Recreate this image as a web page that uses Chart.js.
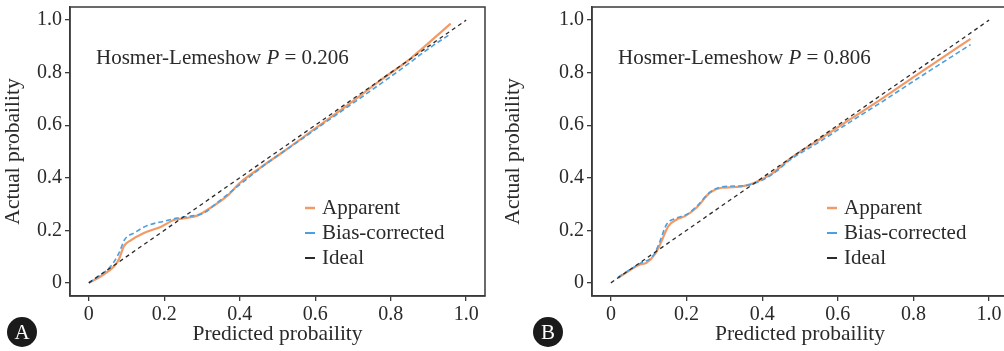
<!DOCTYPE html>
<html>
<head>
<meta charset="utf-8">
<script src="https://cdn.jsdelivr.net/npm/chart.js@4.4.1/dist/chart.umd.min.js"></script>
<style>
  html, body { margin: 0; padding: 0; background: #fff; overflow: hidden; width: 1004px; height: 351px; }
  .panel { position: absolute; top: 0; height: 351px; }
  #wrapA { left: 0; width: 500px; }
  #wrapB { left: 500px; width: 520px; }
  .badge { position: absolute; width: 30px; height: 30px; border-radius: 50%; background: #1b1b1b; color: #fff;
           font: 21px "Liberation Serif", serif; text-align: center; line-height: 31px; }
</style>
</head>
<body>
<div class="panel" id="wrapA"><canvas id="chartA" width="500" height="351"></canvas></div>
<div class="panel" id="wrapB"><canvas id="chartB" width="520" height="351"></canvas></div>
<div class="badge" style="left:7px;top:317px">A</div>
<div class="badge" style="left:533px;top:317px">B</div>
<script>
// tick values shared by both axes
const tickVals = [0, 0.2, 0.4, 0.6, 0.8, 1.0];
const seriesLabels = ["Apparent", "Bias-corrected", "Ideal"];

// ideal line
const idealX = [0, 1.0];
const idealY = [0, 1.0];

// panel A
const hlA = "0.206";
const appAx = [0, 0.032, 0.067, 0.08, 0.093, 0.111, 0.146, 0.19, 0.225, 0.26, 0.287, 0.313, 0.366, 0.40, 0.454, 0.516, 0.604, 0.692, 0.77, 0.85, 0.959];
const appAy = [0, 0.025, 0.063, 0.091, 0.14, 0.162, 0.19, 0.213, 0.239, 0.247, 0.256, 0.277, 0.33, 0.38, 0.438, 0.5, 0.592, 0.683, 0.768, 0.851, 0.987];
const biasAx = [0, 0.032, 0.058, 0.08, 0.095, 0.12, 0.155, 0.2, 0.234, 0.27, 0.305, 0.34, 0.40, 0.472, 0.56, 0.648, 0.736, 0.824, 0.912, 0.955];
const biasAy = [0, 0.032, 0.063, 0.114, 0.165, 0.19, 0.218, 0.235, 0.247, 0.254, 0.266, 0.305, 0.374, 0.455, 0.543, 0.632, 0.72, 0.81, 0.903, 0.944];

// panel B
const hlB = "0.806";
const appBx = [0.019, 0.05, 0.077, 0.094, 0.116, 0.13, 0.152, 0.174, 0.196, 0.226, 0.262, 0.293, 0.323, 0.359, 0.394, 0.429, 0.473, 0.544, 0.632, 0.72, 0.808, 0.951];
const appBy = [0.019, 0.048, 0.07, 0.076, 0.108, 0.146, 0.216, 0.241, 0.254, 0.286, 0.343, 0.362, 0.364, 0.371, 0.391, 0.419, 0.472, 0.539, 0.622, 0.704, 0.791, 0.929];
const biasBx = [0.019, 0.077, 0.112, 0.128, 0.147, 0.174, 0.2, 0.226, 0.262, 0.293, 0.359, 0.403, 0.438, 0.473, 0.544, 0.632, 0.72, 0.808, 0.951];
const biasBy = [0.022, 0.074, 0.104, 0.152, 0.222, 0.247, 0.26, 0.29, 0.345, 0.365, 0.371, 0.393, 0.425, 0.467, 0.53, 0.612, 0.692, 0.775, 0.907];

const FONT = '"Liberation Serif", "Times New Roman", serif';
const INK = "#2a2a2a";

function pts(xs, ys) {
  return xs.map((x, i) => ({ x: x, y: ys[i] }));
}

// frame, legend and the HL text drawn inside the plot box
const boxPlugin = {
  id: "box",
  afterDatasetsDraw(chart, args, opts) {
    const ctx = chart.ctx;
    const a = chart.chartArea;
    ctx.save();
    ctx.strokeStyle = "#3a3a3a";
    ctx.lineWidth = 1.5;
    ctx.strokeRect(a.left, a.top, a.right - a.left, a.bottom - a.top);

    // Hosmer-Lemeshow text
    ctx.fillStyle = INK;
    ctx.textBaseline = "middle";
    ctx.font = "21px " + FONT;
    let x = a.left + 26;
    const y = a.top + 51;
    const p1 = "Hosmer-Lemeshow ";
    ctx.fillText(p1, x, y);
    x += ctx.measureText(p1).width;
    ctx.font = "italic 21px " + FONT;
    ctx.fillText("P", x, y);
    x += ctx.measureText("P").width;
    ctx.font = "21px " + FONT;
    ctx.fillText(" = " + opts.hl, x, y);

    // legend
    chart.data.datasets.forEach((ds, i) => {
      const ly = a.top + 201 + i * 25;
      ctx.strokeStyle = ds.borderColor;
      ctx.lineWidth = i === 0 ? 2.5 : 2;
      ctx.setLineDash([]);
      ctx.beginPath();
      ctx.moveTo(a.left + 235, ly);
      ctx.lineTo(a.left + 245, ly);
      ctx.stroke();
      ctx.fillStyle = INK;
      ctx.fillText(ds.label, a.left + 252, ly);
    });
    ctx.restore();
  }
};

function makeChart(id, app, bias, hl, yWidth, padRight) {
  return new Chart(document.getElementById(id), {
    type: "line",
    data: {
      datasets: [
        {
          label: seriesLabels[0],
          data: app,
          borderColor: "#f29a66",
          borderWidth: 2.2,
          pointRadius: 0,
          cubicInterpolationMode: "monotone",
          order: 2
        },
        {
          label: seriesLabels[1],
          data: bias,
          borderColor: "#4c9fe0",
          borderWidth: 1.6,
          borderDash: [5, 3],
          pointRadius: 0,
          cubicInterpolationMode: "monotone",
          order: 1
        },
        {
          label: seriesLabels[2],
          data: pts(idealX, idealY),
          borderColor: "#2b2b2b",
          borderWidth: 1.3,
          borderDash: [4, 3.5],
          pointRadius: 0,
          order: 0
        }
      ]
    },
    options: {
      responsive: false,
      animation: false,
      devicePixelRatio: 1,
      layout: { padding: { top: 7, right: padRight, left: 0, bottom: 0 } },
      plugins: {
        legend: { display: false },
        tooltip: { enabled: false },
        box: { hl: hl }
      },
      scales: {
        x: {
          type: "linear",
          min: -0.05,
          max: 1.05,
          afterBuildTicks: (s) => { s.ticks = tickVals.map(v => ({ value: v })); },
          afterFit: (s) => { s.height = 55; s.paddingLeft = 0; s.paddingRight = 0; },
          grid: { drawOnChartArea: false, tickLength: 5, color: "#3a3a3a", lineWidth: 1.3 },
          border: { color: "#3a3a3a", width: 1.5 },
          ticks: {
            color: INK,
            padding: 2,
            maxRotation: 0,
            font: { family: FONT, size: 20 },
            callback: (v) => (v === 0 ? "0" : v.toFixed(1))
          },
          title: {
            display: true,
            text: "Predicted probaility",
            color: INK,
            font: { family: FONT, size: 21.5 },
            padding: { top: 0, bottom: 4 }
          }
        },
        y: {
          type: "linear",
          min: -0.05,
          max: 1.05,
          afterBuildTicks: (s) => { s.ticks = tickVals.map(v => ({ value: v })); },
          afterFit: (s) => { s.width = yWidth; s.paddingTop = 0; s.paddingBottom = 0; },
          grid: { drawOnChartArea: false, tickLength: 5, color: "#3a3a3a", lineWidth: 1.3 },
          border: { color: "#3a3a3a", width: 1.5 },
          ticks: {
            color: INK,
            padding: 3,
            font: { family: FONT, size: 20 },
            callback: (v) => (v === 0 ? "0" : v.toFixed(1))
          },
          title: {
            display: true,
            text: "Actual probaility",
            color: INK,
            font: { family: FONT, size: 21.5 },
            padding: { top: 0, bottom: 7 }
          }
        }
      }
    },
    plugins: [boxPlugin]
  });
}

makeChart("chartA", pts(appAx, appAy), pts(biasAx, biasAy), hlA, 70, 15);
makeChart("chartB", pts(appBx, appBy), pts(biasBx, biasBy), hlB, 92, 12);
</script>
</body>
</html>
